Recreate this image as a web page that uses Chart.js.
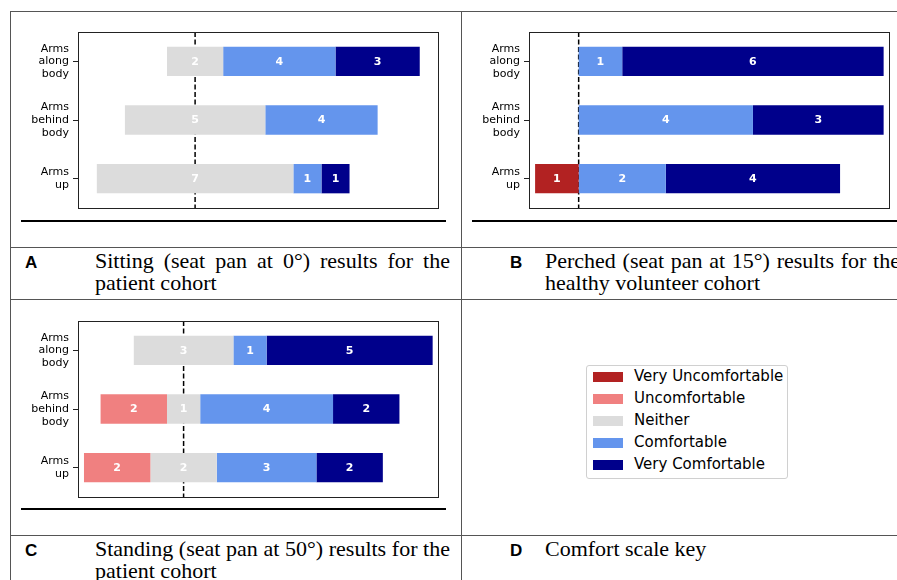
<!DOCTYPE html>
<html>
<head>
<meta charset="utf-8">
<script src="https://cdn.jsdelivr.net/npm/chart.js@4.4.1/dist/chart.umd.min.js"></script>
<style>
  html, body { margin: 0; padding: 0; background: #fff; }
  body { width: 897px; height: 580px; position: relative; overflow: hidden; }
  .hline { position: absolute; height: 1px; background: #555; }
  .vline { position: absolute; width: 1px; background: #555; }
  .rule { position: absolute; height: 2px; background: #000; }
  .letter { position: absolute; font: bold 17px "Liberation Sans", Arial, sans-serif; line-height: 22px; color: #000; }
  .caption { position: absolute; width: 355px; font: 22px "Liberation Serif", "Times New Roman", serif;
             line-height: 22px; text-align: justify; color: #000; white-space: normal; }
  .legend { position: absolute; left: 586px; top: 365px; width: 200px; height: 112px;
            border: 1px solid #d0d0d0; border-radius: 3px; background: #fff; }
  .legend .item { position: absolute; left: 0; height: 22px; width: 100%; }
  .legend .sw { position: absolute; left: 6px; top: 6px; width: 30px; height: 10px; }
  .legend .tx { position: absolute; left: 47px; top: 1px; line-height: 22px;
                font: 15px "DejaVu Sans", sans-serif; color: #000; white-space: nowrap; }
  .chartbox { position: absolute; width: 436px; height: 196px; }
</style>
</head>
<body>

<!-- panel grid -->
<div class="hline" style="left:10px; top:11px; width:887px;"></div>
<div class="hline" style="left:10px; top:247px; width:887px;"></div>
<div class="hline" style="left:10px; top:299px; width:887px;"></div>
<div class="hline" style="left:10px; top:535px; width:887px;"></div>
<div class="vline" style="left:10px; top:11px; height:569px;"></div>
<div class="vline" style="left:461px; top:11px; height:569px;"></div>

<div class="chartbox" style="left:14px; top:22px;"><canvas id="chartA"></canvas></div>
<div class="chartbox" style="left:465px; top:22px;"><canvas id="chartB"></canvas></div>
<div class="chartbox" style="left:14px; top:311px;"><canvas id="chartC"></canvas></div>

<div class="rule" style="left:21px; top:220px; width:425px;"></div>
<div class="rule" style="left:472px; top:220px; width:425px;"></div>
<div class="rule" style="left:21px; top:508px; width:425px;"></div>

<div class="letter" style="left:25px; top:252px;">A</div>
<div class="caption" style="left:95px; top:250px;">Sitting (seat pan at 0°) results for the patient cohort</div>
<div class="letter" style="left:510px; top:252px;">B</div>
<div class="caption" style="left:545px; top:250px;">Perched (seat pan at 15°) results for the healthy volunteer cohort</div>
<div class="letter" style="left:25px; top:540px;">C</div>
<div class="caption" style="left:95px; top:538px;">Standing (seat pan at 50°) results for the patient cohort</div>
<div class="letter" style="left:510px; top:540px;">D</div>
<div class="caption" style="left:545px; top:538px;">Comfort scale key</div>

<div class="legend" id="legend"></div>

<script>
// comfort scale
const levels = ['Very Uncomfortable', 'Uncomfortable', 'Neither', 'Comfortable', 'Very Comfortable'];
const levelColors = ['#b22222', '#f08080', '#dcdcdc', '#6495ed', '#00008b'];

// arm positions (top to bottom)
const positions = [['Arms', 'along', 'body'], ['Arms', 'behind', 'body'], ['Arms', 'up']];

// counts per position, in scale order VU, U, N, C, VC
const sittingCounts  = [[0, 0, 2, 4, 3], [0, 0, 5, 4, 0], [0, 0, 7, 1, 1]];
const perchedCounts  = [[0, 0, 0, 1, 6], [0, 0, 0, 4, 3], [1, 0, 0, 2, 4]];
const standingCounts = [[0, 0, 3, 1, 5], [0, 2, 1, 4, 2], [0, 2, 2, 3, 2]];

// legend for panel D
const legendEl = document.getElementById('legend');
levels.forEach(function(name, i) {
    const item = document.createElement('div');
    item.className = 'item';
    item.style.top = (i * 21.9) + 'px';
    item.innerHTML = '<div class="sw" style="background:' + levelColors[i] + '"></div><div class="tx">' + name + '</div>';
    legendEl.appendChild(item);
});

// dashed zero line, drawn under the bars
const zeroLine = {
    id: 'zeroLine',
    beforeDatasetsDraw: function(chart) {
        const ctx = chart.ctx;
        const area = chart.chartArea;
        const x = chart.scales.x.getPixelForValue(0);
        ctx.save();
        ctx.strokeStyle = '#000';
        ctx.lineWidth = 1.5;
        ctx.setLineDash([5, 2.5]);
        ctx.beginPath();
        ctx.moveTo(x, area.top);
        ctx.lineTo(x, area.bottom);
        ctx.stroke();
        ctx.restore();
    }
};

// counts written in the middle of each segment + the axes frame
const segmentLabels = {
    id: 'segmentLabels',
    afterDatasetsDraw: function(chart) {
        const ctx = chart.ctx;
        const counts = chart.options.plugins.segmentLabels.counts;
        ctx.save();
        ctx.fillStyle = '#fff';
        ctx.font = 'bold 11px "DejaVu Sans"';
        ctx.textAlign = 'center';
        ctx.textBaseline = 'middle';
        chart.data.datasets.forEach(function(ds, i) {
            chart.getDatasetMeta(i).data.forEach(function(bar, j) {
                const v = counts[j][i];
                if (!v) return;
                const p = bar.getCenterPoint();
                ctx.fillText(String(v), p.x, p.y + 0.5);
            });
        });
        const a = chart.chartArea;
        ctx.strokeStyle = '#222';
        ctx.lineWidth = 1;
        ctx.strokeRect(Math.round(a.left) + 0.5, Math.round(a.top) + 0.5,
                       Math.round(a.right - a.left), Math.round(a.bottom - a.top));
        ctx.restore();
    }
};

function buildDatasets(counts) {
    return levels.map(function(name, i) {
        return {
            label: name,
            backgroundColor: levelColors[i],
            borderWidth: 0,
            grouped: false,
            barPercentage: 0.5,
            categoryPercentage: 1.0,
            data: counts.map(function(row) {
                if (!row[i]) return null;
                let start = -(row[0] + row[1] + row[2] / 2);
                for (let k = 0; k < i; k++) start += row[k];
                return [start, start + row[i]];
            })
        };
    });
}

function makeChart(id, counts, xMin, xMax, padRight) {
    new Chart(document.getElementById(id), {
        type: 'bar',
        data: { labels: positions, datasets: buildDatasets(counts) },
        plugins: [zeroLine, segmentLabels],
        options: {
            indexAxis: 'y',
            responsive: true,
            maintainAspectRatio: false,
            animation: false,
            layout: { padding: { top: 10, bottom: 10, right: padRight, left: 0 } },
            plugins: {
                legend: { display: false },
                tooltip: { enabled: false },
                segmentLabels: { counts: counts }
            },
            scales: {
                x: { display: false, min: xMin, max: xMax },
                y: {
                    afterFit: function(scale) {
                        scale.width = 64;
                        scale.paddingTop = 0;
                        scale.paddingBottom = 0;
                    },
                    border: { display: false },
                    grid: { offset: false, drawOnChartArea: false, drawTicks: true, tickLength: 5, color: '#222', tickWidth: 1 },
                    ticks: {
                        color: '#000',
                        padding: 4,
                        font: { family: 'DejaVu Sans', size: 11, lineHeight: 1.15 }
                    }
                }
            }
        }
    });
}

makeChart('chartA', sittingCounts, -4.17, 8.65, 12);
makeChart('chartB', perchedCounts, -1.14, 7.13, 11.7);
makeChart('chartC', standingCounts, -3.18, 7.67, 11.7);
</script>
</body>
</html>
